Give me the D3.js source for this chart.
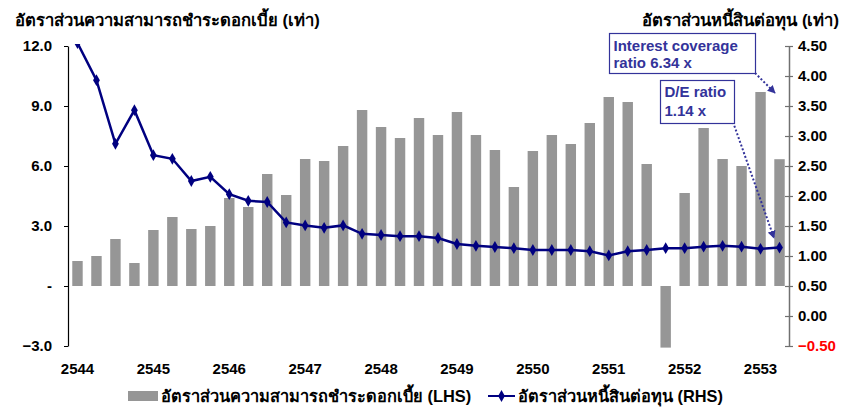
<!DOCTYPE html>
<html><head><meta charset="utf-8">
<script src="https://cdn.jsdelivr.net/npm/d3@7"></script>
<style>
html,body{margin:0;padding:0;background:#fff;}
svg{display:block;font-family:Arial,"Liberation Sans",sans-serif;}
</style></head><body>
<svg id="chart" width="850" height="416"></svg>
<script>
const quarters = [
 "1/2544","2/2544","3/2544","4/2544",
 "1/2545","2/2545","3/2545","4/2545",
 "1/2546","2/2546","3/2546","4/2546",
 "1/2547","2/2547","3/2547","4/2547",
 "1/2548","2/2548","3/2548","4/2548",
 "1/2549","2/2549","3/2549","4/2549",
 "1/2550","2/2550","3/2550","4/2550",
 "1/2551","2/2551","3/2551","4/2551",
 "1/2552","2/2552","3/2552","4/2552",
 "1/2553","2/2553"];
const yearLabels = ["2544","2545","2546","2547","2548","2549","2550","2551","2552","2553"];
const interestCoverage = [1.25,1.5,2.35,1.15,2.8,3.45,2.85,3.0,4.4,3.95,5.6,4.55,6.35,6.25,7.0,8.8,
 7.95,7.4,8.4,7.55,8.7,7.55,6.8,4.95,6.75,7.55,7.1,8.15,9.45,9.2,6.1,-3.08,4.65,7.9,6.35,6.0,9.7,6.34];
const debtToEquity = [4.55,3.93,2.87,3.43,2.68,2.62,2.25,2.32,2.03,1.92,1.9,1.56,1.51,1.47,1.51,1.37,
 1.35,1.33,1.33,1.3,1.2,1.17,1.15,1.13,1.1,1.1,1.1,1.08,1.01,1.08,1.1,1.13,1.13,1.155,1.17,1.155,1.12,1.14];
const leftTicks = [-3,0,3,6,9,12];
const rightTicks = [-0.5,0,0.5,1,1.5,2,2.5,3,3.5,4,4.5];
const titleLeft = "อัตราส่วนความสามารถชำระดอกเบี้ย (เท่า)";
const titleRight = "อัตราส่วนหนี้สินต่อทุน (เท่า)";
const legendBar = "อัตราส่วนความสามารถชำระดอกเบี้ย (LHS)";
const legendLine = "อัตราส่วนหนี้สินต่อทุน (RHS)";
const note1 = ["Interest coverage","ratio 6.34 x"];
const note2 = ["D/E ratio","1.14 x"];

const svg = d3.select("#chart");
const L = 68, R = 789, T = 46, B = 346;
const x = d3.scaleBand().domain(quarters).range([L,R]).paddingInner(0.45).paddingOuter(0.225);
const yL = d3.scaleLinear().domain([-3,12]).range([B,T]);
const yR = d3.scaleLinear().domain([-0.5,4.5]).range([B,T]);

const BAR = "#969696", LINE = "#000080", NOTE = "#33339a";

svg.append("defs").append("clipPath").attr("id","plot")
  .append("rect").attr("x",L).attr("y",44).attr("width",R-L).attr("height",306);

const g = svg.append("g").attr("clip-path","url(#plot)");
g.selectAll("rect.bar").data(interestCoverage).enter().append("rect")
  .attr("class","bar")
  .attr("x",(d,i)=>x(quarters[i]))
  .attr("width",x.bandwidth())
  .attr("y",d=>yL(Math.max(0,d)))
  .attr("height",d=>Math.abs(yL(d)-yL(0)))
  .attr("fill",BAR);

const cx = (d,i)=>x(quarters[i])+x.bandwidth()/2;
g.append("path").datum(debtToEquity)
  .attr("d",d3.line().x(cx).y(d=>yR(d)))
  .attr("fill","none").attr("stroke",LINE).attr("stroke-width",2.5);
const dia = d3.symbol().type(d3.symbolDiamond).size(40);
g.selectAll("path.mk").data(debtToEquity).enter().append("path")
  .attr("class","mk").attr("d",dia)
  .attr("transform",(d,i)=>`translate(${cx(d,i)},${yR(d)})`)
  .attr("fill",LINE);

// left axis
const axL = svg.append("g").attr("transform",`translate(${L},0)`)
  .call(d3.axisLeft(yL).tickValues(leftTicks).tickSize(4).tickSizeOuter(0).tickPadding(12)
    .tickFormat(d=>d===0?"-":d3.format(".1f")(d)));
axL.select(".domain").attr("stroke","#000").attr("stroke-width",1.2);
axL.selectAll(".tick line").attr("stroke","#000");
axL.selectAll("text").attr("font-size",15).attr("font-weight","bold").attr("fill","#000")
  .attr("font-family","Arial, 'Liberation Sans', sans-serif");

// right axis
const axR = svg.append("g").attr("transform",`translate(${R},0)`)
  .call(d3.axisRight(yR).tickValues(rightTicks).tickSize(4).tickSizeOuter(0).tickPadding(5)
    .tickFormat(d3.format(".2f")));
axR.select(".domain").attr("stroke","#707070").attr("stroke-width",1.5);
axR.selectAll(".tick line").attr("stroke","#707070").attr("x1",-4).attr("stroke-width",1.2);
axR.selectAll("text").attr("font-size",15).attr("font-weight","bold")
  .attr("font-family","Arial, 'Liberation Sans', sans-serif")
  .attr("fill",d=>d<0?"#ff0000":"#000");

// x labels
svg.append("g").selectAll("text").data(yearLabels).enter().append("text")
  .attr("x",(d,i)=>x(quarters[i*4])+x.bandwidth()/2)
  .attr("y",374).attr("text-anchor","middle")
  .attr("font-size",15).attr("font-weight","bold").text(d=>d);

function fit(sel, w){
  const n = sel.node(); const cur = n.getComputedTextLength();
  const fs = parseFloat(sel.attr("font-size"));
  sel.attr("font-size", fs*w/cur);
}
// titles
const t1 = svg.append("text").attr("x",15).attr("y",26).attr("font-size",15)
  .attr("font-weight","bold").text(titleLeft);
fit(t1,303);
const fsTitle = t1.attr("font-size");
svg.append("text").attr("x",839).attr("y",26).attr("text-anchor","end")
  .attr("font-size",fsTitle).attr("font-weight","bold").text(titleRight);

// legend
svg.append("rect").attr("x",128).attr("y",391).attr("width",30).attr("height",10).attr("fill",BAR);
const lt1 = svg.append("text").attr("x",161).attr("y",402).attr("font-size",fsTitle)
  .attr("font-weight","bold").text(legendBar);
fit(lt1,307);
const lx = 161 + 307 + 20;
svg.append("line").attr("x1",lx).attr("x2",lx+27).attr("y1",396).attr("y2",396)
  .attr("stroke",LINE).attr("stroke-width",2);
svg.append("path").attr("d",dia).attr("transform",`translate(${lx+13.5},396)`).attr("fill",LINE);
svg.append("text").attr("x",lx+30).attr("y",402).attr("font-size",lt1.attr("font-size"))
  .attr("font-weight","bold").text(legendLine);

// annotations
const defs = svg.select("defs");
defs.append("marker").attr("id","arr").attr("viewBox","0 0 10 10").attr("refX",9).attr("refY",5)
  .attr("markerWidth",4).attr("markerHeight",4).attr("orient","auto")
  .append("path").attr("d","M0,0L10,5L0,10z").attr("fill",NOTE);
function note(x0,y0,w,h,lines,base){
  svg.append("rect").attr("x",x0).attr("y",y0).attr("width",w).attr("height",h)
    .attr("fill","#fff").attr("stroke",NOTE).attr("stroke-width",1.2);
  lines.forEach((s,i)=>svg.append("text").attr("x",x0+4).attr("y",base[i])
    .attr("font-size",15).attr("font-weight","bold").attr("fill",NOTE).text(s));
}
svg.append("line").attr("x1",755).attr("y1",73).attr("x2",775).attr("y2",93)
  .attr("stroke",NOTE).attr("stroke-width",2).attr("stroke-dasharray","2,2").attr("marker-end","url(#arr)");
svg.append("line").attr("x1",733).attr("y1",122).attr("x2",774).attr("y2",238)
  .attr("stroke",NOTE).attr("stroke-width",2).attr("stroke-dasharray","2,2").attr("marker-end","url(#arr)");
note(609.5,33.5,146,40,note1,[51,68]);
note(660.5,80.5,74,43,note2,[97,116]);
</script>
</body></html>
